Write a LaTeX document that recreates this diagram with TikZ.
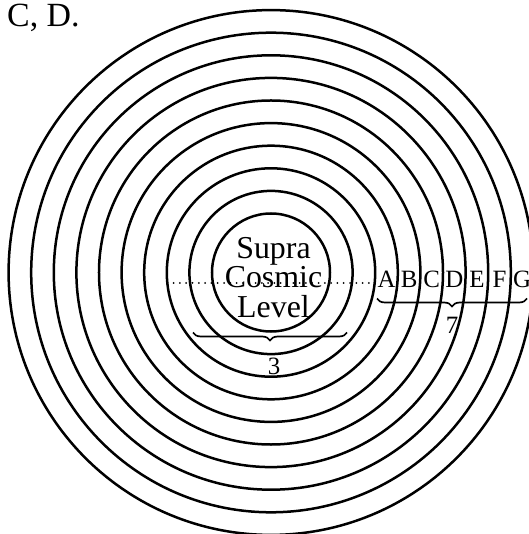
\documentclass[tikz,border=0pt]{standalone}
\usepackage{fontspec}
\setmainfont{Liberation Serif}
\usetikzlibrary{positioning,decorations.pathreplacing}

\begin{document}
\begin{tikzpicture}[
  x=1bp, y=1bp,
  ring/.style={
    circle, draw, line width=2.5bp,
    inner sep=0, minimum size=#1
  },
  coretxt/.style={font=\fontsize{32}{32}\selectfont, anchor=base, inner sep=0},
  ringlbl/.style={font=\fontsize{25}{25}\selectfont, anchor=base, inner sep=0},
  numlbl/.style={font=\fontsize{25}{25}\selectfont, inner sep=0},
  brc/.style={decorate, decoration={brace, mirror, amplitude=8bp}, line width=1.7bp},
  dotline/.style={line width=2bp, line cap=round, dash pattern=on 0bp off 6.3bp},
]
\clip (-271,-261.5) rectangle (258,272.5);
% Rings
\node[ring=118bp]   (r1)  at (0,0) {};
\node[ring=163.2bp] (r2)  at (0,0) {};
\node[ring=208.4bp] (r3)  at (0,0) {};
\node[ring=253.6bp] (r4)  at (0,0) {};
\node[ring=298.8bp] (r5)  at (0,0) {};
\node[ring=344bp]   (r6)  at (0,0) {};
\node[ring=389.2bp] (r7)  at (0,0) {};
\node[ring=434.4bp] (r8)  at (0,0) {};
\node[ring=479.6bp] (r9)  at (0,0) {};
\node[ring=524.8bp] (r10) at (0,0) {};
% Centre
\node[coretxt] (sup) at (2.5,13.5)  {Supra};
\node[coretxt] (cos) at (2.5,-15.5) {Cosmic};
\node[coretxt] (lev) at (2.5,-45)   {Level};
% Outer levels
\node[ringlbl] (A) at (115.5,-15.5) {A};
\node[ringlbl] (B) at (138.1,-15.5) {B};
\node[ringlbl] (C) at (160.7,-15.5) {C};
\node[ringlbl] (D) at (183.3,-15.5) {D};
\node[ringlbl] (E) at (205.9,-15.5) {E};
\node[ringlbl] (F) at (228.5,-15.5) {F};
\node[ringlbl] (G) at (251.1,-15.5) {G};
% Dotted radius
\coordinate (dotL) at (-103.7,-10.5);
\draw[dotline] (dotL) -- (dotL -| A.west);
% Braces
\coordinate (b3L) at (-78,-60);
\coordinate (b3R) at (76,-60);
\coordinate (tip3) at (-1,-68);
\draw[brc] (b3L) -- (b3R);
\coordinate (b7L) at (106,-26);
\coordinate (b7R) at (256,-26);
\coordinate (tip7) at (181,-34);
\draw[brc] (b7L) -- (b7R);
% Labels
\node[numlbl, below=17bp of tip3, xshift=4bp] (n3) {3};
\node[numlbl, below=10bp of tip7] (n7) {7};
\node[font=\fontsize{34}{34}\selectfont, anchor=base west, inner sep=0] (title) at (-264,245.5) {C, D.};
\end{tikzpicture}
\end{document}
